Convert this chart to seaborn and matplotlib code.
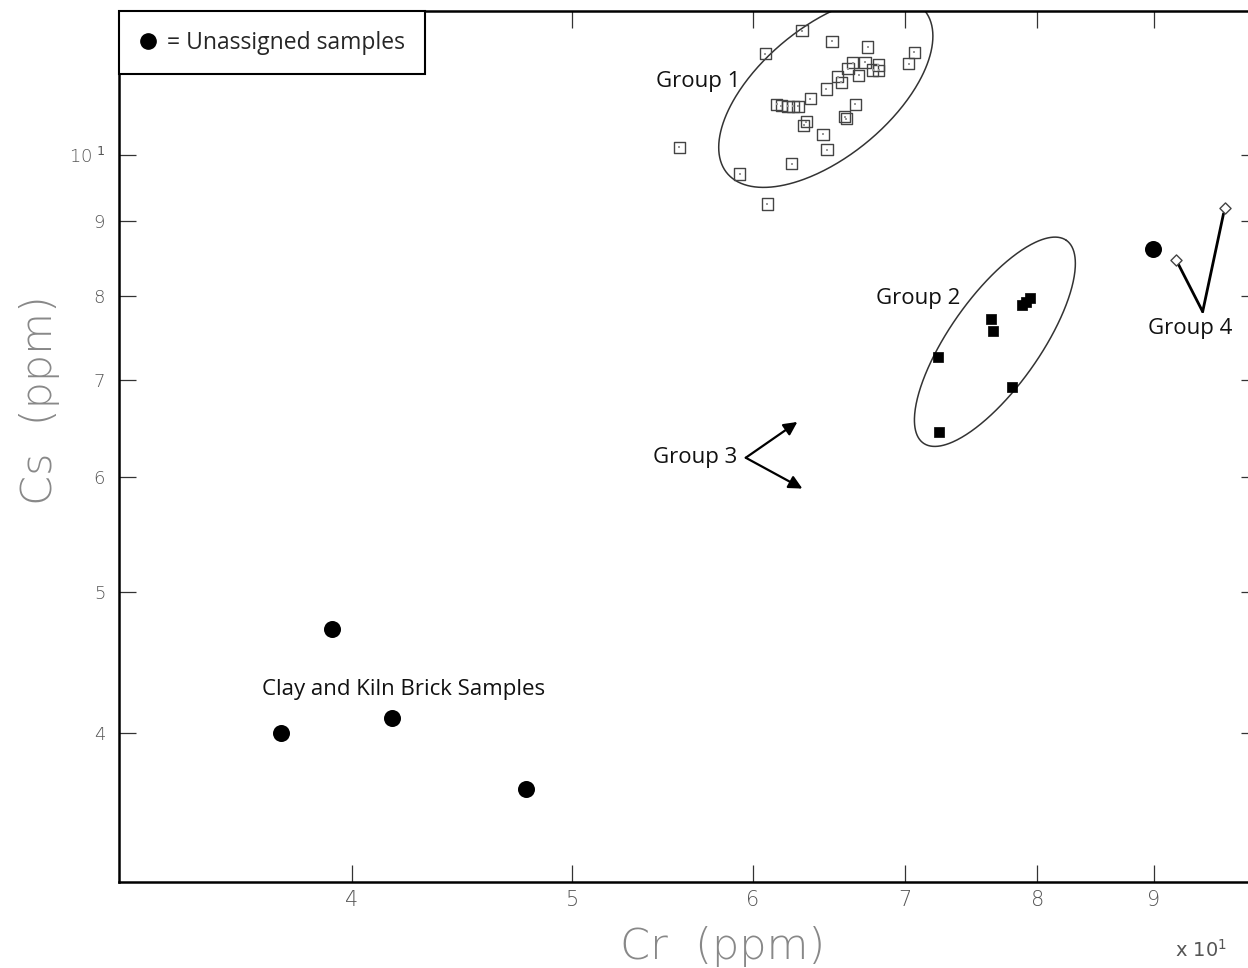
import numpy as np
import matplotlib
matplotlib.use("Agg")
import matplotlib.pyplot as plt
import seaborn as sns
from matplotlib.lines import Line2D
from matplotlib.ticker import FixedLocator, FixedFormatter, NullLocator

# Cr / Cs (ppm)
group1_cr = [63.06, 65.00, 67.40, 60.78, 70.65, 70.25, 66.39, 67.22, 68.13, 66.06,
             67.74, 68.15, 66.79, 65.39, 65.62, 64.63, 63.59, 61.46, 61.77, 62.18,
             62.50, 62.81, 66.55, 63.34, 63.17, 65.84, 65.95, 64.41, 64.67, 62.40,
             59.22, 55.70, 60.90]
group1_cs = [12.17, 11.97, 11.86, 11.74, 11.76, 11.55, 11.57, 11.58, 11.53, 11.46,
             11.44, 11.43, 11.34, 11.32, 11.22, 11.10, 10.93, 10.83, 10.81, 10.80,
             10.80, 10.80, 10.83, 10.54, 10.48, 10.62, 10.59, 10.33, 10.08, 9.86,
             9.70, 10.12, 9.25]

group2_cr = [72.37, 72.40, 76.34, 76.50, 78.00, 78.80, 79.05, 79.43]
group2_cs = [7.26, 6.45, 7.71, 7.56, 6.92, 7.88, 7.92, 7.97]

group3_cr = [62.77, 63.09]
group3_cs = [6.55, 5.894]

group4_cr = [92.04, 96.68]
group4_cs = [8.47, 9.19]

unassigned_cr = [39.20, 37.24, 41.65, 47.72, 89.90]
unassigned_cs = [4.72, 4.00, 4.10, 3.66, 8.61]

# group ellipses: centre (Cr, Cs) and two half-axis vectors in log10 decades
ell_center_cr = [64.6, 76.64]
ell_center_cs = [11.05, 7.437]
ell_major = [(0.04335, 0.05598), (0.0314, 0.06974)]
ell_minor = [(-0.01818, 0.03453), (-0.01618, 0.01788)]

x_ticks = [40, 50, 60, 70, 80, 90]
x_ticklabels = ["4", "5", "6", "7", "8", "9"]
y_ticks = [4, 5, 6, 7, 8, 9, 10]
y_ticklabels = ["4", "5", "6", "7", "8", "9", r"10$^{\ 1}$"]

sns.set_style("ticks")
plt.rcParams["font.family"] = ["Open Sans", "DejaVu Sans"]

fig = plt.figure(figsize=(12.48, 9.68), dpi=100)
ax = fig.add_axes([0.0954, 0.0892, 0.9127, 0.8990])
ax.set_xscale("log")
ax.set_yscale("log")

# ellipses
t = np.linspace(0, 2 * np.pi, 400)
for cx, cy, mj, mn in zip(ell_center_cr, ell_center_cs, ell_major, ell_minor):
    lx = np.log10(cx) + mj[0] * np.cos(t) + mn[0] * np.sin(t)
    ly = np.log10(cy) + mj[1] * np.cos(t) + mn[1] * np.sin(t)
    ax.plot(10 ** lx, 10 ** ly, color="#333333", lw=1.1, zorder=2)

# group 1: open squares with a dot
sns.scatterplot(x=group1_cr, y=group1_cs, ax=ax, marker="s", s=66,
                facecolor="none", edgecolor="#444444", linewidth=1.0, zorder=3)
sns.scatterplot(x=group1_cr, y=group1_cs, ax=ax, marker="s", s=2,
                facecolor="#999999", edgecolor="#999999", linewidth=0, zorder=3)

# group 2: filled squares
sns.scatterplot(x=group2_cr, y=group2_cs, ax=ax, marker="s", s=60,
                facecolor="black", edgecolor="black", linewidth=0.5, zorder=3)

# unassigned: filled circles
sns.scatterplot(x=unassigned_cr, y=unassigned_cs, ax=ax, marker="o", s=150,
                facecolor="black", edgecolor="black", linewidth=0, zorder=3)

# group 4: open diamonds
sns.scatterplot(x=group4_cr, y=group4_cs, ax=ax, marker="D", s=32,
                facecolor="white", edgecolor="#444444", linewidth=1.0, zorder=4)

# group 3 arrows
for cx, cy in zip(group3_cr, group3_cs):
    ax.annotate("", xy=(cx, cy), xytext=(59.58, 6.189),
                arrowprops=dict(arrowstyle="-|>", color="black", lw=1.6,
                                mutation_scale=20, shrinkA=0, shrinkB=0))
# group 4 pointer lines
for cx, cy in zip(group4_cr, group4_cs):
    ax.annotate("", xy=(cx, cy), xytext=(94.55, 7.80),
                arrowprops=dict(arrowstyle="-", color="black", lw=2.0,
                                shrinkA=0, shrinkB=4))

lab = dict(fontsize=16, color="#111111", ha="center", va="center")
ax.text(56.76, 11.23, "Group 1", **lab)
ax.text(70.9, 7.97, "Group 2", **lab)
ax.text(56.59, 6.189, "Group 3", **lab)
ax.text(93.34, 7.60, "Group 4", **lab)
ax.text(42.17, 4.286, "Clay and Kiln Brick Samples", **lab)

ax.set_xlim(10 ** 1.5, 100)
ax.set_ylim(10 ** 0.5, 12.55)

ax.xaxis.set_major_locator(FixedLocator(x_ticks))
ax.xaxis.set_major_formatter(FixedFormatter(x_ticklabels))
ax.xaxis.set_minor_locator(NullLocator())
ax.yaxis.set_major_locator(FixedLocator(y_ticks))
ax.yaxis.set_major_formatter(FixedFormatter(y_ticklabels))
ax.yaxis.set_minor_locator(NullLocator())

ax.tick_params(which="both", direction="in", top=True, right=True,
               length=12, width=0.9, color="#333333")
ax.tick_params(axis="x", pad=6, labelsize=15, labelcolor="#555555")
ax.tick_params(axis="y", pad=10, labelsize=13, labelcolor="#555555")
for t_ in ax.get_xticklabels() + ax.get_yticklabels():
    t_.set_family(["DejaVu Sans"])
    t_.set_fontweight("light")

for sp in ax.spines.values():
    sp.set_linewidth(1.8)
    sp.set_color("black")

axis_font = dict(fontsize=31, color="#888888", family=["DejaVu Sans"],
                 fontweight="light")
ax.set_xlabel("Cr  (ppm)", **axis_font)
ax.set_ylabel("Cs  (ppm)", **axis_font)
ax.xaxis.set_label_coords(0.5294, -0.051)
ax.yaxis.set_label_coords(-0.052, 0.5535)

fig.text(0.9415, 0.0186, r"x 10$^{1}$", fontsize=14, color="#555555",
         family=["DejaVu Sans"], va="center", ha="left")

handle = Line2D([], [], marker="o", color="black", linestyle="none",
                markersize=11)
leg = ax.legend(handles=[handle], labels=["= Unassigned samples"],
                loc="upper left", bbox_to_anchor=(0, 1), borderaxespad=0,
                fancybox=False, edgecolor="black", framealpha=1, fontsize=16.5,
                handlelength=0.8, handletextpad=0.45, borderpad=0.85)
leg.get_frame().set_linewidth(1.5)
leg.set_zorder(5)

fig.savefig("out.png", dpi=100, facecolor="white")
